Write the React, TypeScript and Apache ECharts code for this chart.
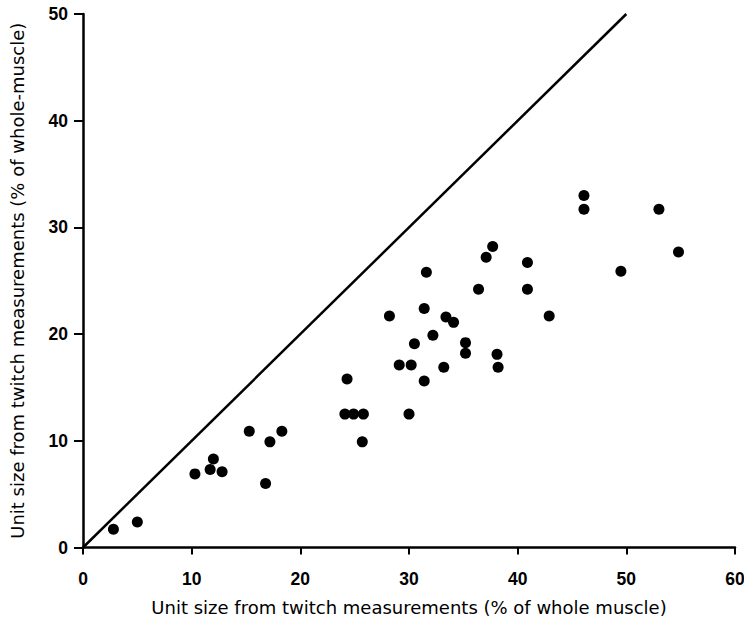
import React, { useEffect, useRef } from "react";
import * as echarts from "echarts";

const xValues = [2.8, 5.0, 10.3, 11.7, 12.0, 12.8, 15.3, 16.8, 17.2, 18.3, 24.3, 24.1, 24.9, 25.8, 25.7, 30.0, 28.2, 31.4, 30.5, 29.1, 30.2, 31.4, 37.7, 37.1, 40.9, 31.6, 36.4, 40.9, 33.4, 34.1, 42.9, 32.2, 35.2, 35.2, 38.1, 33.2, 38.2, 46.1, 46.1, 53.0, 54.8, 49.5];
const yValues = [1.7, 2.4, 6.9, 7.3, 8.3, 7.1, 10.9, 6.0, 9.9, 10.9, 15.8, 12.5, 12.5, 12.5, 9.9, 12.5, 21.7, 22.4, 19.1, 17.1, 17.1, 15.6, 28.2, 27.2, 26.7, 25.8, 24.2, 24.2, 21.6, 21.1, 21.7, 19.9, 19.2, 18.2, 18.1, 16.9, 16.9, 33.0, 31.7, 31.7, 27.7, 25.9];
const identityLine = [[0, 0], [50, 50]];
const xTicks = [0, 10, 20, 30, 40, 50, 60];
const yTicks = [0, 10, 20, 30, 40, 50];
const xName = "Unit size from twitch measurements (% of whole muscle)";
const yName = "Unit size from twitch measurements (% of whole-muscle)";

export default function App() {
  const ref = useRef<HTMLDivElement>(null);
  useEffect(() => {
    const chart = echarts.init(ref.current!, null, { renderer: "svg" });
    const points = xValues.map((x, i) => [x, yValues[i]]);
    const tickFont = "'Liberation Sans', Arial, sans-serif";
    const nameFont = "'DejaVu Sans', sans-serif";
    chart.setOption({
      animation: false,
      backgroundColor: "#fff",
      grid: { left: 83, right: 9, top: 14, bottom: 70.5, containLabel: false, outerBoundsMode: "none" },
      xAxis: {
        type: "value",
        min: xTicks[0],
        max: xTicks[xTicks.length - 1],
        interval: 10,
        name: xName,
        nameLocation: "middle",
        nameGap: 51,
        nameTextStyle: { color: "#000", fontSize: 18, fontFamily: nameFont },
        axisLine: { lineStyle: { color: "#000", width: 2.5 } },
        axisTick: { length: 7, lineStyle: { color: "#000", width: 2 } },
        axisLabel: { color: "#000", fontSize: 17.5, fontWeight: "bold", fontFamily: tickFont, margin: 22 },
        splitLine: { show: false },
      },
      yAxis: {
        type: "value",
        min: yTicks[0],
        max: yTicks[yTicks.length - 1],
        interval: 10,
        name: yName,
        nameLocation: "middle",
        nameGap: 57,
        nameTextStyle: { color: "#000", fontSize: 18, fontFamily: nameFont },
        axisLine: { lineStyle: { color: "#000", width: 2.5 } },
        axisTick: { length: 9, lineStyle: { color: "#000", width: 2 } },
        axisLabel: { color: "#000", fontSize: 17.5, fontWeight: "bold", fontFamily: tickFont, margin: 15 },
        splitLine: { show: false },
      },
      series: [
        {
          type: "line",
          data: identityLine,
          showSymbol: false,
          symbol: "none",
          lineStyle: { color: "#000", width: 2.5 },
          z: 1,
        },
        {
          type: "scatter",
          data: points,
          symbol: "circle",
          symbolSize: 11,
          itemStyle: { color: "#000", opacity: 1 },
          z: 2,
        },
      ],
    });
    return () => chart.dispose();
  }, []);
  return <div ref={ref} style={{ width: 744, height: 618, position: "absolute", left: 0, top: 0 }} />;
}
